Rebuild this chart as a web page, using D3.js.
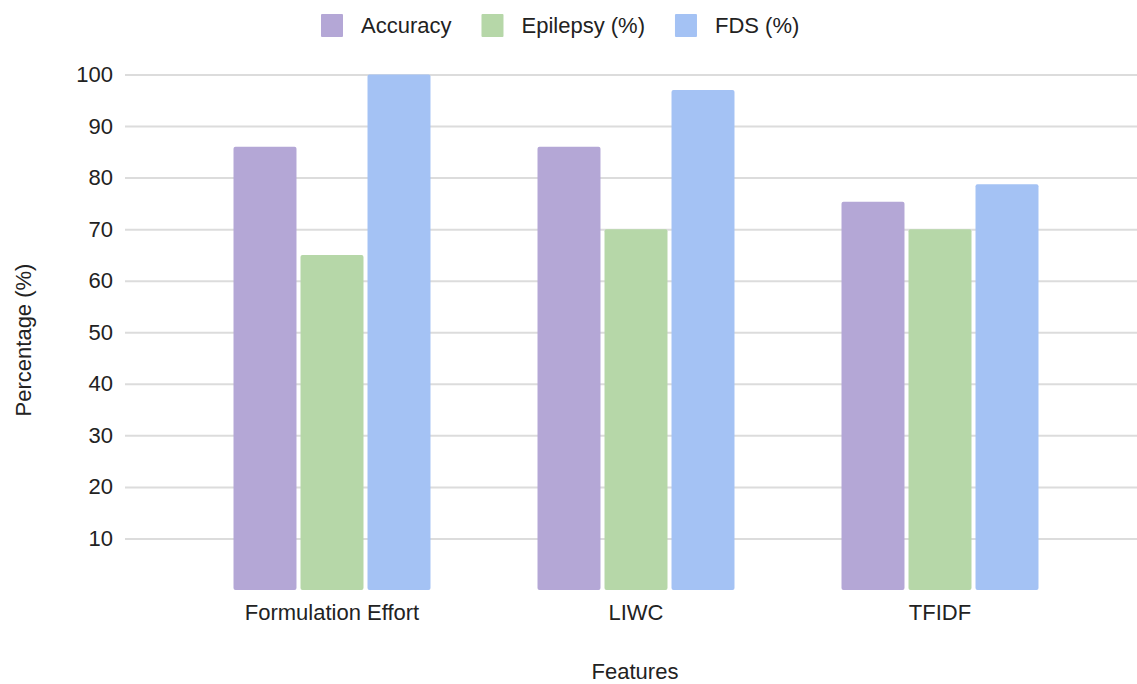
<!DOCTYPE html>
<html>
<head>
<meta charset="utf-8">
<script src="https://cdn.jsdelivr.net/npm/d3@7"></script>
<style>
  html, body { margin: 0; padding: 0; background: #fff; }
  svg { display: block; font-family: "Liberation Sans", Arial, Helvetica, sans-serif; }
</style>
</head>
<body>
<svg id="chart" width="1137" height="684"></svg>
<script>
const categories = ["Formulation Effort", "LIWC", "TFIDF"];
const seriesNames = ["Accuracy", "Epilepsy (%)", "FDS (%)"];
const accuracy = [86, 86, 75.3];
const epilepsy = [65, 70, 70];
const fds = [100, 97, 78.7];
const yTicks = [10, 20, 30, 40, 50, 60, 70, 80, 90, 100];
const colors = ["#b4a7d6", "#b6d7a8", "#a4c2f4"];

const seriesValues = [accuracy, epilepsy, fds];
const svg = d3.select("#chart");
const textColor = "#222";
const fontSize = 22;

const y = d3.scaleLinear().domain([0, 100]).range([590, 74.5]);
const x0 = d3.scaleBand().domain(categories).range([180, 1092]).paddingInner(0.352).paddingOuter(0.176);
const x1 = d3.scaleBand().domain(seriesNames).range([0, x0.bandwidth()]).paddingInner(0.06).paddingOuter(0);

// gridlines
const grid = d3.axisLeft(y).tickValues(yTicks).tickSize(-(1137 - 125)).tickFormat("");
const gridG = svg.append("g").attr("transform", "translate(125,0)").call(grid);
gridG.select(".domain").remove();
gridG.selectAll(".tick line").attr("stroke", "#dcdcdc").attr("stroke-width", 2);

// y labels
const yAxis = d3.axisLeft(y).tickValues(yTicks).tickSize(0).tickPadding(0);
const yG = svg.append("g").attr("transform", "translate(113,0)").call(yAxis);
yG.select(".domain").remove();
yG.selectAll(".tick text").attr("fill", textColor).style("font-size", fontSize + "px")
  .style("font-family", '"Liberation Sans", Arial, sans-serif');

// bars
const groups = svg.append("g").selectAll("g").data(categories).join("g")
  .attr("transform", d => `translate(${x0(d)},0)`);
groups.selectAll("rect")
  .data((c, i) => seriesNames.map((s, j) => ({ s, v: seriesValues[j][i], j })))
  .join("rect")
  .attr("x", d => x1(d.s))
  .attr("width", x1.bandwidth())
  .attr("y", d => y(d.v))
  .attr("height", d => y(0) - y(d.v))
  .attr("rx", 2)
  .attr("fill", d => colors[d.j]);

// x labels
const xAxis = d3.axisBottom(x0).tickSize(0).tickPadding(0);
const xG = svg.append("g").attr("transform", "translate(0,604)").call(xAxis);
xG.select(".domain").remove();
xG.selectAll(".tick text").attr("fill", textColor).attr("dy", "0.71em").style("font-size", fontSize + "px")
  .style("font-family", '"Liberation Sans", Arial, sans-serif');

// axis titles
svg.append("text").attr("x", 635).attr("y", 679).attr("text-anchor", "middle")
  .attr("fill", textColor).style("font-size", fontSize + "px").text("Features");
svg.append("text").attr("transform", "translate(31,340) rotate(-90)").attr("text-anchor", "middle")
  .attr("fill", textColor).style("font-size", fontSize + "px").text("Percentage (%)");

// legend
const legend = svg.append("g");
let lx = 321;
seriesNames.forEach((name, i) => {
  legend.append("rect").attr("x", lx).attr("y", 14).attr("width", 22).attr("height", 23)
    .attr("rx", 1).attr("fill", colors[i]);
  const t = legend.append("text").attr("x", lx + 40).attr("y", 33)
    .attr("fill", textColor).style("font-size", fontSize + "px").text(name);
  lx += 40 + t.node().getComputedTextLength() + 30;
});
</script>
</body>
</html>
